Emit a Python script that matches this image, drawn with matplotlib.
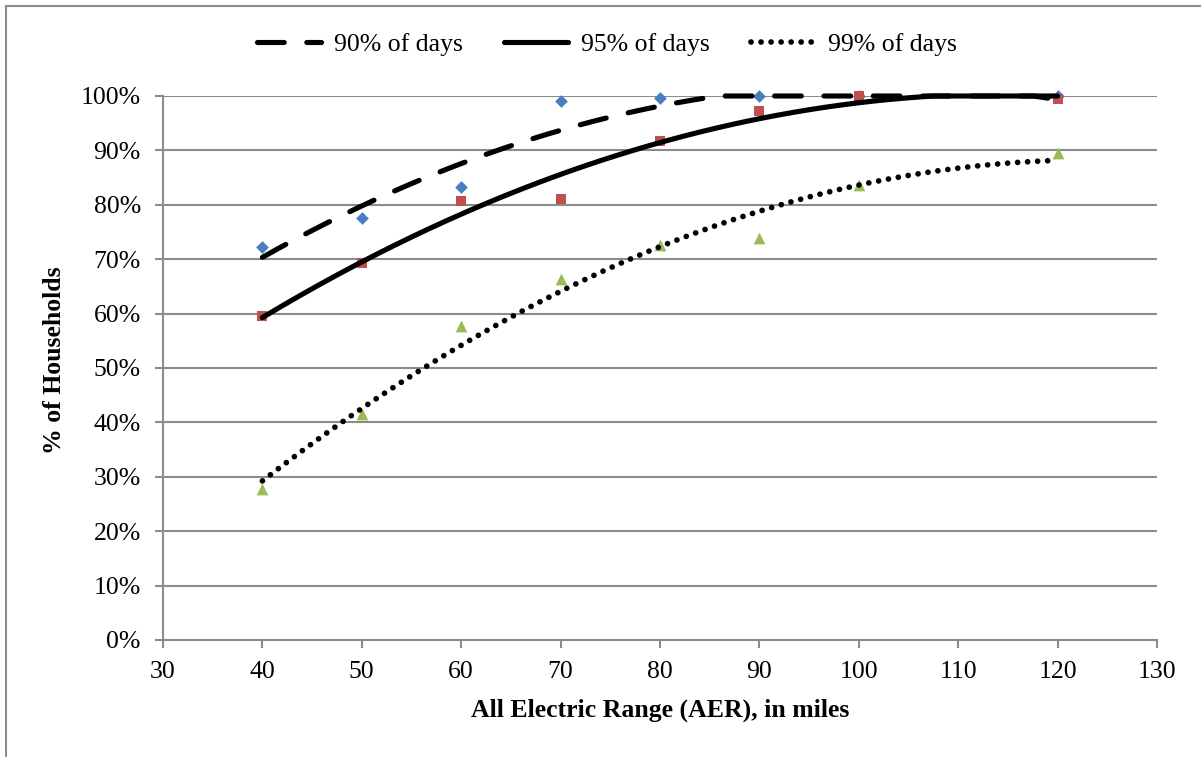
import numpy as np
import matplotlib
matplotlib.use('Agg')
import matplotlib.pyplot as plt
from matplotlib.patches import Rectangle
from matplotlib.ticker import PercentFormatter

plt.rcParams['font.family'] = ['Liberation Serif', 'DejaVu Serif']

# AER (miles) and share of households covered
aer = [40, 50, 60, 70, 80, 90, 100, 120]
pct_90 = [72.2, 77.6, 83.3, 99.1, 99.7, 100.0, 100.0, 100.0]
pct_95 = [59.5, 69.3, 80.7, 81.0, 91.8, 97.2, 100.0, 99.4]
pct_99 = [27.8, 41.5, 57.7, 66.4, 72.6, 73.9, 83.6, 89.5]

labels = ['90% of days', '95% of days', '99% of days']
marker_colors = ['#4A7EBB', '#C0504D', '#9BBB59']
markers = ['D', 's', '^']
marker_sizes = [42, 58, 72]
line_styles = [(0, (5.2, 4.4)), '-', (0, (0.01, 1.75))]
line_widths = [3.7, 3.7, 4.1]

FS = 18.5

fig = plt.figure(figsize=(12.01, 7.57), dpi=100)
ax = fig.add_axes([163 / 1201, 117 / 757, 994 / 1201, 544 / 757])

# outer chart frame (only left/top edges fall inside the image)
fig.patches.append(Rectangle((6 / 1201, -0.1), 1.2, (751 / 757) + 0.1,
                             transform=fig.transFigure, fill=False,
                             edgecolor='#8c8c8c', linewidth=1.5))

series = [pct_90, pct_95, pct_99]
xs = np.array(aer, dtype=float)
line_handles = []
for i, vals in enumerate(series):
    y = np.array(vals) / 100.0
    ax.scatter(xs, y, marker=markers[i], s=marker_sizes[i], color=marker_colors[i],
               zorder=3, linewidths=0, clip_on=False)
    # 2nd order polynomial trendline, like the spreadsheet one
    coef = np.polyfit(xs, y, 2)
    xf = np.linspace(xs.min(), xs.max(), 300)
    yf = np.minimum(np.polyval(coef, xf), 1.0)
    ln, = ax.plot(xf, yf, color='black', linewidth=line_widths[i], linestyle=line_styles[i],
                  dash_capstyle='round', solid_capstyle='round', zorder=4,
                  clip_on=False, label=labels[i])
    line_handles.append(ln)

ax.set_xlim(30, 130)
ax.set_ylim(0, 1.0)
ax.set_xticks(range(30, 131, 10))
ax.set_yticks(np.arange(0, 1.01, 0.1))
ax.yaxis.set_major_formatter(PercentFormatter(1.0, decimals=0))
ax.grid(axis='y', color='#8c8c8c', linewidth=1.5)
ax.set_axisbelow(True)
for s in ['top', 'right']:
    ax.spines[s].set_visible(False)
for s in ['left', 'bottom']:
    ax.spines[s].set_color('#8c8c8c')
    ax.spines[s].set_linewidth(1.5)
ax.tick_params(axis='both', direction='out', length=6, width=1.5, color='#8c8c8c',
               labelsize=FS)
ax.tick_params(axis='y', pad=10)
ax.tick_params(axis='x', pad=9)

ax.set_xlabel('All Electric Range (AER), in miles', fontsize=FS, fontweight='bold',
              va='center', ha='center')
ax.xaxis.set_label_coords(0.5, -70 / 544)
ax.set_ylabel('% of Households', fontsize=FS, fontweight='bold', va='center', ha='center')
ax.yaxis.set_label_coords(-108 / 994, 0.515)

fig.legend(handles=line_handles, labels=labels, loc='center',
           bbox_to_anchor=(0.505, 1 - 45 / 757), ncol=3, frameon=False,
           fontsize=FS, handlelength=2.5, columnspacing=1.6, handletextpad=0.5)

fig.savefig('out.png', dpi=100)
